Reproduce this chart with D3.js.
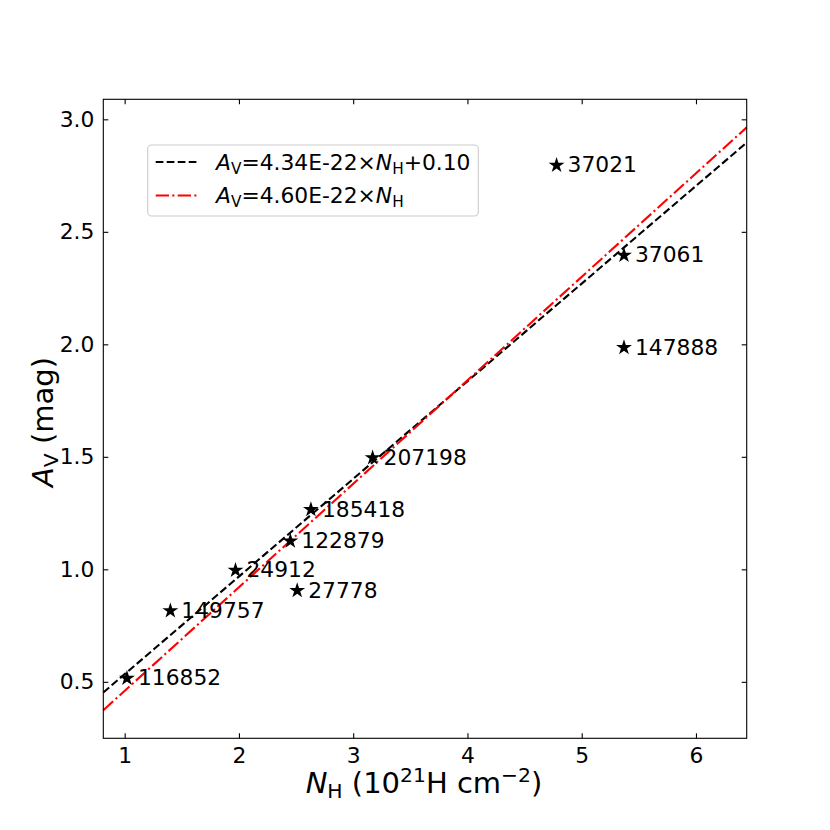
<!DOCTYPE html>
<html>
<head>
<meta charset="utf-8">
<script src="https://cdn.jsdelivr.net/npm/d3@7"></script>
<style>
  body { margin: 0; background: #fff; }
  text { font-family: "DejaVu Sans", sans-serif; fill: #000; }
</style>
</head>
<body>
<svg id="chart"></svg>
<script>
// star names and measured values
const stars = ['116852', '149757', '24912', '27778', '122879', '185418', '207198', '37021', '37061', '147888'];
const nH = [1.02, 1.40, 1.97, 2.51, 2.45, 2.63, 3.17, 4.78, 5.37, 5.37];
const aV = [0.52, 0.82, 1.00, 0.91, 1.13, 1.27, 1.50, 2.80, 2.40, 1.99];
const xTicks = [1, 2, 3, 4, 5, 6];
const yTicks = [0.5, 1.0, 1.5, 2.0, 2.5, 3.0];
// fits: A_V = slope * N_H + intercept
const fits = [
  {slope: 0.434, intercept: 0.10, color: '#000', dash: '7.7,3.3', label: ['4.34E-22×', '+0.10']},
  {slope: 0.460, intercept: 0.00, color: '#ff0000', dash: '13.3,3.3,2.1,3.3', label: ['4.60E-22×', '']}
];

const svg = d3.select('#chart').attr('width', 830).attr('height', 830);

// Set up dimensions and margins
const margin = {top: 99.3, left: 103.3};
const width = 643.4;
const height = 639;
const fs = 21.8;

const g = svg.append('g').attr('transform', `translate(${margin.left},${margin.top})`);

const x = d3.scaleLinear().domain([0.813, 6.444]).range([0, width]);
const y = d3.scaleLinear().domain([0.249, 3.089]).range([height, 0]);

// fit lines
const line = d3.line().x(d => x(d[0])).y(d => y(d[1]));
fits.forEach(f => {
  const xs = x.domain();
  g.append('path')
    .datum(xs.map(v => [v, f.slope * v + f.intercept]))
    .attr('d', line)
    .attr('fill', 'none')
    .attr('stroke', f.color)
    .attr('stroke-width', 2.1)
    .attr('stroke-dasharray', f.dash);
});

// stars
const data = stars.map((s, i) => ({name: s, x: nH[i], y: aV[i]}));
const star = d3.symbol().type(d3.symbolStar).size(78);
g.selectAll('.star')
  .data(data)
  .enter().append('path')
  .attr('class', 'star')
  .attr('d', star)
  .attr('transform', d => `translate(${x(d.x)},${y(d.y) + 1})`)
  .attr('fill', '#000');

g.selectAll('.lab')
  .data(data)
  .enter().append('text')
  .attr('class', 'lab')
  .attr('x', d => x(d.x) + 11)
  .attr('y', d => y(d.y) + 8)
  .attr('font-size', fs)
  .text(d => d.name);

// axes with inward ticks on all four sides
const axes = [
  {ax: d3.axisBottom(x).tickValues(xTicks).tickFormat(d3.format('d')), t: `translate(0,${height})`, lab: true},
  {ax: d3.axisTop(x).tickValues(xTicks), t: 'translate(0,0)', lab: false},
  {ax: d3.axisLeft(y).tickValues(yTicks).tickFormat(d3.format('.1f')), t: 'translate(0,0)', lab: true},
  {ax: d3.axisRight(y).tickValues(yTicks), t: `translate(${width},0)`, lab: false}
];
axes.forEach(a => {
  const ag = g.append('g')
    .attr('transform', a.t)
    .call(a.ax.tickSizeInner(-5).tickSizeOuter(0).tickPadding(9));
  ag.select('.domain').remove();
  ag.selectAll('.tick line').attr('stroke', '#000').attr('stroke-width', 1.1);
  ag.selectAll('.tick text')
    .attr('font-family', '"DejaVu Sans", sans-serif')
    .attr('font-size', fs)
    .attr('fill', '#000');
  if (!a.lab) ag.selectAll('.tick text').remove();
});

// frame
g.append('rect')
  .attr('width', width).attr('height', height)
  .attr('fill', 'none').attr('stroke', '#000').attr('stroke-width', 1.1);

// x label
const xl = svg.append('text')
  .attr('x', 424).attr('y', 793)
  .attr('text-anchor', 'middle')
  .attr('font-size', 29);
xl.append('tspan').attr('font-style', 'italic').text('N');
xl.append('tspan').attr('font-size', 20.3).attr('dy', 5).text('H');
xl.append('tspan').attr('dy', -5).text(' (10');
xl.append('tspan').attr('font-size', 20.3).attr('dy', -11).text('21');
xl.append('tspan').attr('dy', 11).text('H cm');
xl.append('tspan').attr('font-size', 20.3).attr('dy', -11).text('−2');
xl.append('tspan').attr('dy', 11).text(')');

// y label
const yl = svg.append('text')
  .attr('transform', 'translate(53,422) rotate(-90)')
  .attr('text-anchor', 'middle')
  .attr('font-size', 29);
yl.append('tspan').attr('font-style', 'italic').text('A');
yl.append('tspan').attr('font-size', 20.3).attr('dy', 5).text('V');
yl.append('tspan').attr('dy', -5).text(' (mag)');

// legend
const lg = svg.append('g');
lg.append('rect')
  .attr('x', 147.7).attr('y', 145).attr('width', 330.6).attr('height', 71)
  .attr('rx', 4)
  .attr('fill', '#fff').attr('fill-opacity', 0.8)
  .attr('stroke', '#ccc').attr('stroke-width', 1.1);
fits.forEach((f, i) => {
  const cy = 162 + i * 33.5;
  lg.append('line')
    .attr('x1', 155.7).attr('x2', 197.3).attr('y1', cy).attr('y2', cy)
    .attr('stroke', f.color).attr('stroke-width', 2.1)
    .attr('stroke-dasharray', f.dash);
  const t = lg.append('text').attr('x', 216).attr('y', cy + 7.8).attr('font-size', fs);
  t.append('tspan').attr('font-style', 'italic').text('A');
  t.append('tspan').attr('font-size', 15.3).attr('dy', 4).text('V');
  t.append('tspan').attr('dy', -4).text('=' + f.label[0]);
  t.append('tspan').attr('font-style', 'italic').text('N');
  t.append('tspan').attr('font-size', 15.3).attr('dy', 4).text('H');
  if (f.label[1]) t.append('tspan').attr('dy', -4).text(f.label[1]);
});
</script>
</body>
</html>
